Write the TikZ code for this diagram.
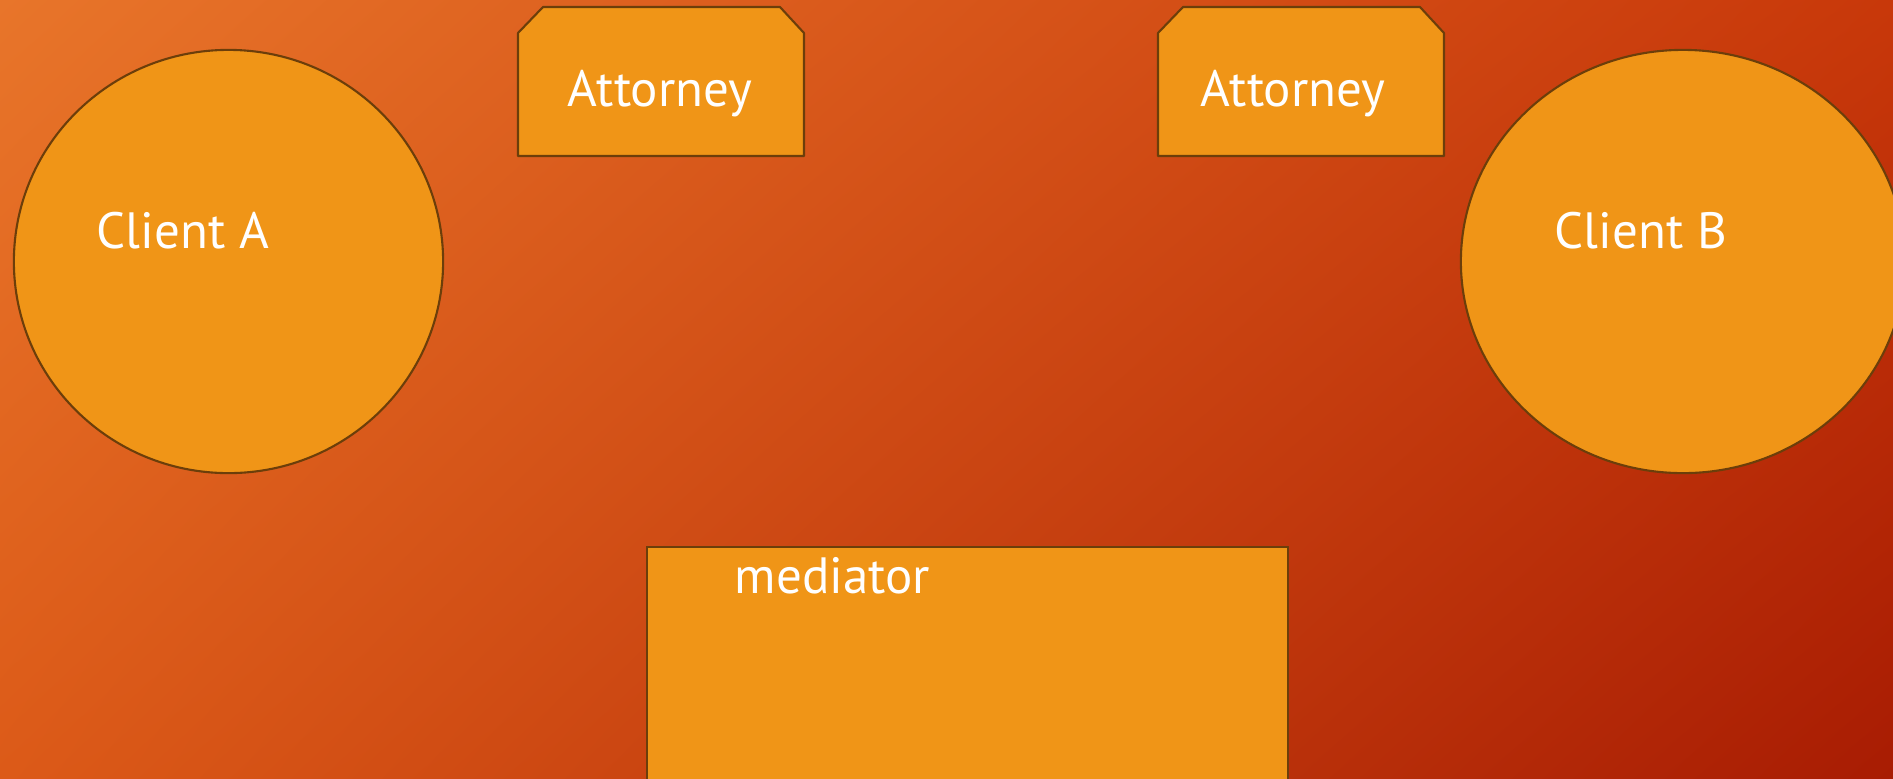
\documentclass[tikz,border=0pt]{standalone}
\usepackage{fontspec}
\setmainfont{PT Sans}
\usetikzlibrary{shapes.geometric, shadings}

\definecolor{boxfill}{RGB}{240,149,23}
\definecolor{boxline}{RGB}{108,62,10}
\definecolor{bgul}{RGB}{232,117,42}
\definecolor{bgur}{RGB}{200,56,10}
\definecolor{bgll}{RGB}{220,90,24}
\definecolor{bglr}{RGB}{168,28,3}

\begin{document}
\begin{tikzpicture}[x=0.01cm, y=-0.01cm,
    caption/.style = {text=white, inner sep=0pt, anchor=base west,
        font=\fontsize{14.5pt}{17pt}\selectfont},
    client/.style = {ellipse, draw=boxline, fill=boxfill,
        line width=0.6pt, inner sep=0pt},
    lawyer/.style = {draw=boxline, fill=boxfill, line width=0.6pt,
        line join=round},
    panel/.style = {rectangle, draw=boxline, fill=boxfill,
        line width=0.6pt, inner sep=0pt}]
    % \draw [help lines] (0,0) grid (1893,778);
    \useasboundingbox (0,0) rectangle (1893,778);
    \clip (0,0) rectangle (1893,778);
    \shade [upper left=bgul, upper right=bgur,
        lower left=bgll, lower right=bglr]
        (0,0) rectangle (1893,778);

    % clients
    \node (clientA) [client, minimum width=4.29cm, minimum height=4.23cm]
        at (228.5,261.5) {};
    \node (clientB) [client, minimum width=4.44cm, minimum height=4.23cm]
        at (1683,261.5) {};
    \node (clientAtext) [caption] at (96,248) {Client A};
    \node (clientBtext) [caption] at (1554,248) {Client B};

    % attorneys
    \filldraw [lawyer] (518,156) -- (518,33) -- (543,7) -- (780,7)
        -- (804,33) -- (804,156) -- cycle;
    \filldraw [lawyer] (1158,156) -- (1158,33) -- (1183,7) -- (1420,7)
        -- (1444,33) -- (1444,156) -- cycle;
    \node (attorneyA) [caption] at (567,106) {Attorney};
    \node (attorneyB) [caption] at (1200,106) {Attorney};

    % mediator
    \node (mediator) [panel, minimum width=6.41cm, minimum height=2.53cm]
        at (967.5,673.5) {};
    \node (mediatortext) [caption] at (734,593) {mediator};
\end{tikzpicture}
\end{document}
